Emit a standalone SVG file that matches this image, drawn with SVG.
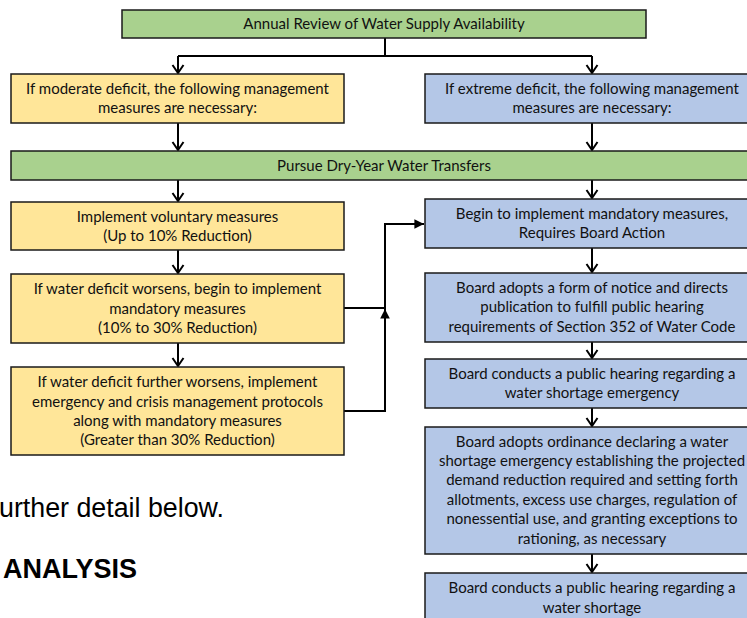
<svg xmlns="http://www.w3.org/2000/svg" width="747" height="618" viewBox="0 0 747 618">
<style>
  .box { stroke: #1a1a1a; stroke-width: 1.5; }
  .green { fill: #A9D18E; }
  .yellow { fill: #FFE699; }
  .blue { fill: #B4C7E7; }
  .t { font-family: Lato, "Liberation Sans", sans-serif; font-size: 15px; fill: #111; text-anchor: middle; }
  .c { fill: none; stroke: #000; stroke-width: 2; }
  .page { font-family: "Liberation Sans", Arial, sans-serif; fill: #000; }
</style>
<defs>
  <marker id="v" markerUnits="userSpaceOnUse" markerWidth="14" markerHeight="14" viewBox="-9 -7 11 14" refX="0" refY="0" orient="auto" overflow="visible">
    <path d="M-8,-5.5 L0,0 L-8,5.5" fill="none" stroke="#000" stroke-width="2"/>
  </marker>
  <marker id="tri" markerUnits="userSpaceOnUse" markerWidth="12" markerHeight="12" viewBox="-9 -5 10 10" refX="0" refY="0" orient="auto" overflow="visible">
    <path d="M-8,-4 L0,0 L-8,4 Z" fill="#000"/>
  </marker>
</defs>
<rect width="747" height="618" fill="#fff"/>

<text class="page" x="-1" y="517" font-size="26.8">urther detail below.</text>
<text class="page" x="3" y="578" font-size="27" font-weight="bold">ANALYSIS</text>

<g id="connectors">
  <path class="c" d="M385,38 V56"/>
  <path class="c" d="M178,56 H592"/>
  <path class="c" d="M178,56 V73" marker-end="url(#v)"/>
  <path class="c" d="M592,56 V73" marker-end="url(#v)"/>
  <path class="c" d="M178,123 V150" marker-end="url(#v)"/>
  <path class="c" d="M592,123 V150" marker-end="url(#v)"/>
  <path class="c" d="M178,180 V201" marker-end="url(#v)"/>
  <path class="c" d="M592,180 V198" marker-end="url(#v)"/>
  <path class="c" d="M178,250 V273" marker-end="url(#v)"/>
  <path class="c" d="M178,343 V366" marker-end="url(#v)"/>
  <path class="c" d="M592,248 V272" marker-end="url(#v)"/>
  <path class="c" d="M592,342 V358" marker-end="url(#v)"/>
  <path class="c" d="M592,408 V426" marker-end="url(#v)"/>
  <path class="c" d="M592,554 V572" marker-end="url(#v)"/>
  <path class="c" d="M344,308 H385 V224 H424" marker-end="url(#tri)"/>
  <path class="c" d="M344,411 H385 V309" marker-end="url(#tri)"/>
</g>

<g id="annual-review">
  <rect class="box green" x="122" y="10" width="524" height="28"/>
  <text class="t" x="384" y="29">Annual Review of Water Supply Availability</text>
</g>
<g id="moderate-deficit">
  <rect class="box yellow" x="11" y="74" width="333" height="49"/>
  <text class="t" x="177.5" y="94">If moderate deficit, the following management</text>
  <text class="t" x="177.5" y="113">measures are necessary:</text>
</g>
<g id="extreme-deficit">
  <rect class="box blue" x="425" y="74" width="334" height="49"/>
  <text class="t" x="592" y="94">If extreme deficit, the following management</text>
  <text class="t" x="592" y="113">measures are necessary:</text>
</g>
<g id="dry-year-transfers">
  <rect class="box green" x="11" y="151" width="746" height="29"/>
  <text class="t" x="384" y="170.5">Pursue Dry-Year Water Transfers</text>
</g>
<g id="voluntary">
  <rect class="box yellow" x="11" y="202" width="333" height="48"/>
  <text class="t" x="177.5" y="222">Implement voluntary measures</text>
  <text class="t" x="177.5" y="241">(Up to 10% Reduction)</text>
</g>
<g id="worsens">
  <rect class="box yellow" x="11" y="274" width="333" height="69"/>
  <text class="t" x="177.5" y="294">If water deficit worsens, begin to implement</text>
  <text class="t" x="177.5" y="314">mandatory measures</text>
  <text class="t" x="177.5" y="333">(10% to 30% Reduction)</text>
</g>
<g id="further-worsens">
  <rect class="box yellow" x="11" y="367" width="333" height="88"/>
  <text class="t" x="177.5" y="387">If water deficit further worsens, implement</text>
  <text class="t" x="177.5" y="407">emergency and crisis management protocols</text>
  <text class="t" x="177.5" y="426">along with mandatory measures</text>
  <text class="t" x="177.5" y="445">(Greater than 30% Reduction)</text>
</g>
<g id="mandatory">
  <rect class="box blue" x="425" y="199" width="334" height="49"/>
  <text class="t" x="592" y="219">Begin to implement mandatory measures,</text>
  <text class="t" x="592" y="238">Requires Board Action</text>
</g>
<g id="notice">
  <rect class="box blue" x="425" y="273" width="334" height="69"/>
  <text class="t" x="592" y="293">Board adopts a form of notice and directs</text>
  <text class="t" x="592" y="312">publication to fulfill public hearing</text>
  <text class="t" x="592" y="332">requirements of Section 352 of Water Code</text>
</g>
<g id="hearing-emergency">
  <rect class="box blue" x="425" y="359" width="334" height="49"/>
  <text class="t" x="592" y="379">Board conducts a public hearing regarding a</text>
  <text class="t" x="592" y="398">water shortage emergency</text>
</g>
<g id="ordinance">
  <rect class="box blue" x="425" y="427" width="334" height="127"/>
  <text class="t" x="592" y="447">Board adopts ordinance declaring a water</text>
  <text class="t" x="592" y="466">shortage emergency establishing the projected</text>
  <text class="t" x="592" y="485">demand reduction required and setting forth</text>
  <text class="t" x="592" y="505">allotments, excess use charges, regulation of</text>
  <text class="t" x="592" y="524">nonessential use, and granting exceptions to</text>
  <text class="t" x="592" y="544">rationing, as necessary</text>
</g>
<g id="hearing-shortage">
  <rect class="box blue" x="425" y="573" width="334" height="50"/>
  <text class="t" x="592" y="593">Board conducts a public hearing regarding a</text>
  <text class="t" x="592" y="613">water shortage</text>
</g>
</svg>
